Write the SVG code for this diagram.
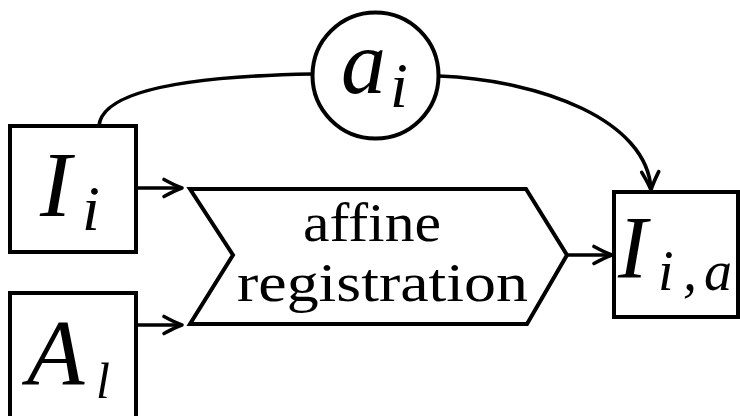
<svg xmlns="http://www.w3.org/2000/svg" width="740" height="416" viewBox="0 0 740 416">
<style>
.shape{fill:#fff;stroke:#000;stroke-width:4}
.conn{fill:none;stroke:#000;stroke-width:3.6}
.math{font-family:"Liberation Serif","Times New Roman",serif;font-style:italic;fill:#000}
.rm{font-family:"Liberation Serif","Times New Roman",serif;fill:#000}
</style>
<defs>
<marker id="arr" markerUnits="userSpaceOnUse" markerWidth="24" markerHeight="24" viewBox="-20 -12 24 24" refX="0" refY="0" orient="auto" overflow="visible">
<path d="M-18,-8.5 Q-6,-2 0,0 Q-6,2 -18,8.5" fill="none" stroke="#000" stroke-width="3.6" stroke-linecap="round" stroke-linejoin="round"/>
</marker>
</defs>
<rect width="740" height="416" fill="#fff"/>
<g id="connectors">
<path class="conn" d="M136,188 L182,188" marker-end="url(#arr)"/>
<path class="conn" d="M136,325 L182,325" marker-end="url(#arr)"/>
<path class="conn" d="M567,255 L612,255" marker-end="url(#arr)"/>
<path class="conn" d="M99,126 C102,88 200,76 312,74"/>
<path class="conn" d="M439,76 C540,80 648,120 651,190" marker-end="url(#arr)"/>
</g>
<g id="node-Ii">
<rect class="shape" x="10" y="126" width="126" height="126"/>
<text class="math" x="40" y="216" font-size="94">I<tspan x="82" y="230" font-size="64">i</tspan></text>
</g>
<g id="node-Al">
<rect class="shape" x="10" y="293" width="126" height="140"/>
<text class="math" x="27" y="384" font-size="94">A<tspan x="96" y="398" font-size="50">l</tspan></text>
</g>
<g id="node-ai">
<circle class="shape" cx="375.5" cy="75.5" r="63" stroke-width="3.6"/>
<text class="math" x="341" y="93" font-size="90">a<tspan x="390" y="107" font-size="64">i</tspan></text>
</g>
<g id="node-reg">
<polygon class="shape" points="190,189 526,189 567,255 527,324 190,324 233,255"/>
<text class="rm" x="303" y="241" font-size="54" textLength="138" lengthAdjust="spacingAndGlyphs">affine</text>
<text class="rm" x="237" y="301" font-size="54" textLength="291" lengthAdjust="spacingAndGlyphs">registration</text>
</g>
<g id="node-Iia">
<rect class="shape" x="614" y="192" width="124" height="125"/>
<text class="math" x="618" y="277" font-size="88">I<tspan x="658" y="290" font-size="56">i</tspan><tspan x="683" y="290" font-size="56">,</tspan><tspan x="704" y="290" font-size="56">a</tspan></text>
</g>
</svg>
